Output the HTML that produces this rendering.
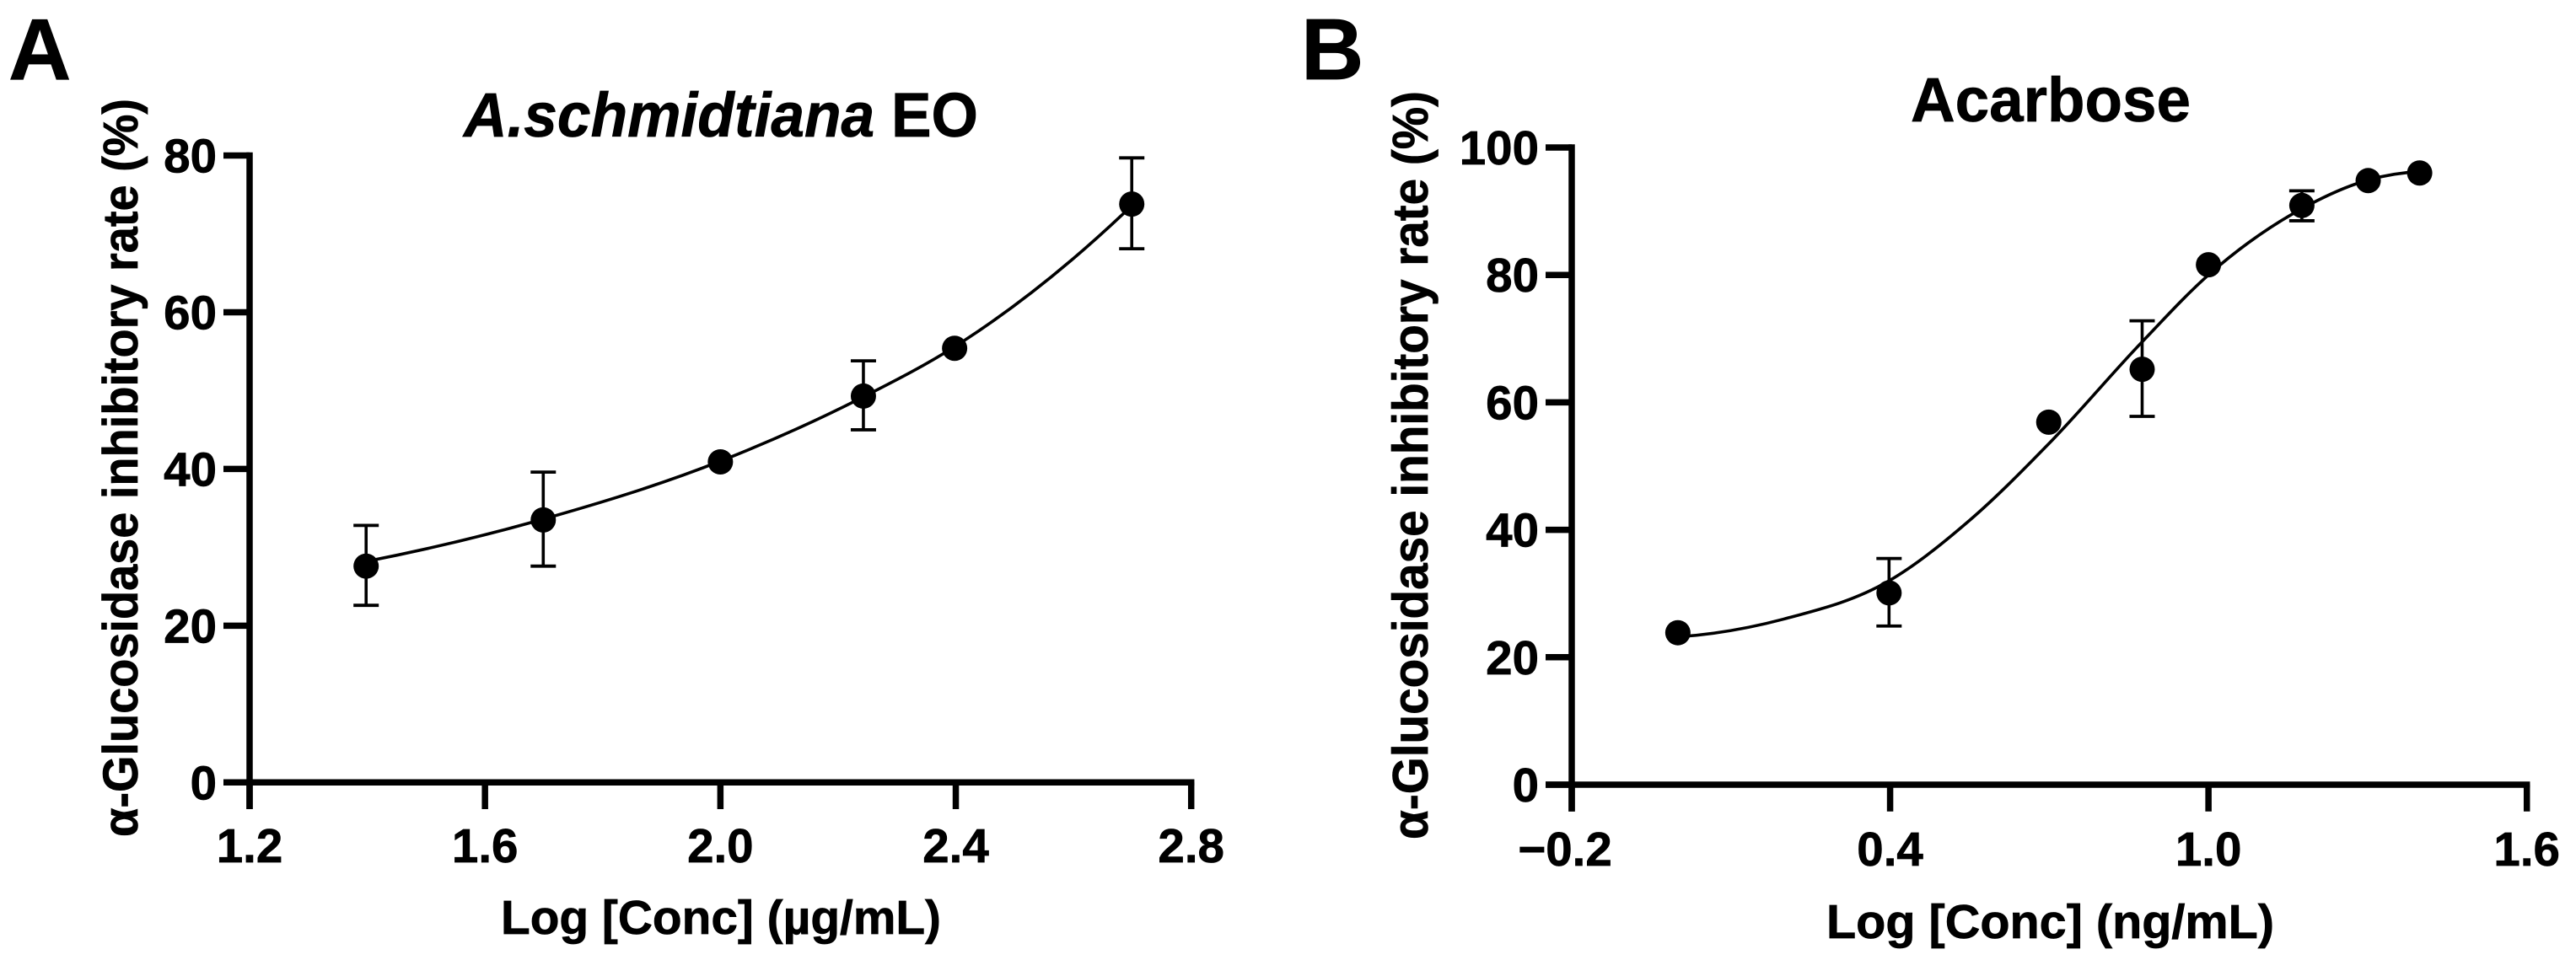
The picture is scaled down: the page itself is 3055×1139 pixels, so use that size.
<!DOCTYPE html>
<html lang="en">
<head>
<meta charset="utf-8">
<title>α-Glucosidase inhibitory rate curves</title>
<style>
  html, body { margin: 0; padding: 0; background: #fff; }
  body { width: 3055px; height: 1139px; overflow: hidden; }
  svg { display: block; }
  text { font-family: "Liberation Sans", sans-serif; font-weight: bold; fill: #000; stroke: #000; stroke-width: 0.7px; }
</style>
</head>
<body>
<svg id="figure" xmlns="http://www.w3.org/2000/svg" width="3055" height="1139" viewBox="0 0 3055 1139">
  <rect x="0" y="0" width="3055" height="1139" fill="#fff"/>
  <text x="10" y="94" font-size="103">A</text>
  <text x="1543" y="94" font-size="103">B</text>
  <text x="550" y="162" font-size="74" textLength="610" lengthAdjust="spacingAndGlyphs"><tspan font-style="italic">A.schmidtiana</tspan> EO</text>
  <text x="2266" y="144" font-size="74" textLength="332" lengthAdjust="spacingAndGlyphs">Acarbose</text>
  <text transform="translate(163 555) rotate(-90)" text-anchor="middle" font-size="58" textLength="876" lengthAdjust="spacingAndGlyphs">α-Glucosidase inhibitory rate (%)</text>
  <text transform="translate(1693 552) rotate(-90)" text-anchor="middle" font-size="59" textLength="888" lengthAdjust="spacingAndGlyphs">α-Glucosidase inhibitory rate (%)</text>
  <text x="594" y="1108" font-size="57" textLength="522" lengthAdjust="spacingAndGlyphs">Log [Conc] (µg/mL)</text>
  <text x="2166" y="1113" font-size="57" textLength="531" lengthAdjust="spacingAndGlyphs">Log [Conc] (ng/mL)</text>
  <g id="panel-a"></g>
  <g id="panel-b"></g>
</svg>
<script>
// Panel A: A.schmidtiana EO
const aXTickLabels = ["1.2", "1.6", "2.0", "2.4", "2.8"];
const aYTickLabels = ["0", "20", "40", "60", "80"];
const aLogConc = [1.398, 1.699, 2.0, 2.243, 2.398, 2.699];
const aRate = [27.6, 33.5, 40.9, 49.3, 55.4, 73.8];
const aErrHigh = [32.8, 39.6, null, 53.8, null, 79.7];
const aErrLow = [22.6, 27.6, null, 45.0, null, 68.1];
const aFitLogConc = [1.398, 1.699, 2.0, 2.243, 2.398, 2.699];
const aFitRate = [28.2, 33.6, 41.0, 49.2, 55.6, 73.6];

// Panel B: Acarbose
const bXTickLabels = ["\u22120.2", "0.4", "1.0", "1.6"];
const bYTickLabels = ["0", "20", "40", "60", "80", "100"];
const bLogConc = [0, 0.398, 0.699, 0.875, 1.0, 1.176, 1.301, 1.398];
const bRate = [23.85, 30.1, 56.9, 65.2, 81.6, 90.9, 94.8, 96.0];
const bErrHigh = [null, 35.5, null, 72.8, null, 93.2, null, null];
const bErrLow = [null, 24.9, null, 57.8, null, 88.5, null, null];
const bFitLogConc = [0, 0.2, 0.398, 0.55, 0.699, 0.875, 1.0, 1.176, 1.301, 1.398];
const bFitRate = [23.2, 26.0, 32.0, 41.5, 53.5, 69.5, 80.0, 90.4, 94.9, 96.2];

const SVG_NS = 'http://www.w3.org/2000/svg';

function linearScale(d0, d1, r0, r1) {
  return function (v) { return r0 + (v - d0) * (r1 - r0) / (d1 - d0); };
}
function tickValue(label) {
  return parseFloat(String(label).replace('\u2212', '-'));
}
function shape(parent, tag, props) {
  const el = document.createElementNS(SVG_NS, tag);
  Object.keys(props).forEach(function (k) { el.setAttribute(k, props[k]); });
  parent.appendChild(el);
  return el;
}
// Smooth x-monotone cubic through the read-off fit values, with non-uniform tangents
function smoothPath(pts) {
  const n = pts.length;
  const h = [];
  const s = [];
  for (let i = 0; i < n - 1; i++) {
    h.push(pts[i + 1][0] - pts[i][0]);
    s.push((pts[i + 1][1] - pts[i][1]) / h[i]);
  }
  const m = [];
  for (let i = 0; i < n; i++) {
    if (i === 0) {
      m.push(s[0] + (s[0] - s[1]) * h[0] / (h[0] + h[1]));
    } else if (i === n - 1) {
      m.push(s[n - 2] + (s[n - 2] - s[n - 3]) * h[n - 2] / (h[n - 2] + h[n - 3]));
    } else {
      m.push((h[i] * s[i - 1] + h[i - 1] * s[i]) / (h[i] + h[i - 1]));
    }
  }
  let d = 'M' + pts[0][0] + ' ' + pts[0][1];
  for (let i = 0; i < n - 1; i++) {
    d += ' C' + (pts[i][0] + h[i] / 3) + ' ' + (pts[i][1] + m[i] * h[i] / 3) +
         ' ' + (pts[i + 1][0] - h[i] / 3) + ' ' + (pts[i + 1][1] - m[i + 1] * h[i] / 3) +
         ' ' + pts[i + 1][0] + ' ' + pts[i + 1][1];
  }
  return d;
}

function drawPanel(g, xTickLabels, yTickLabels, logConc, rate, errHigh, errLow, fitX, fitY, frame) {
  const sx = linearScale(frame.xMin, frame.xMax, frame.left, frame.right);
  const sy = linearScale(frame.yMin, frame.yMax, frame.bottom, frame.top);
  const axisW = 7.5;
  const tickLen = 31;

  const yAxis = shape(g, 'line', { x1: frame.left, x2: frame.left, y1: frame.top - axisW / 2, y2: frame.bottom + tickLen + axisW / 2 - 3, stroke: '#000', 'stroke-width': axisW });
  
  

  const xAxis = shape(g, 'line', { x1: frame.left - tickLen, x2: frame.right + axisW / 2, y1: frame.bottom, y2: frame.bottom, stroke: '#000', 'stroke-width': axisW });
  
  

  yTickLabels.forEach(function (label) {
    const y = sy(tickValue(label));
    const tick = shape(g, 'line', { x1: frame.left - tickLen, x2: frame.left, y1: y, y2: y, stroke: '#000', 'stroke-width': axisW });
    
    
    const txt = shape(g, 'text', { x: frame.left - tickLen - frame.yLabelGap, y: y + 20, 'text-anchor': 'end', 'font-size': 56.5 });
    txt.textContent = label;
    
    
  });

  xTickLabels.forEach(function (label) {
    const x = sx(tickValue(label));
    const tick = shape(g, 'line', { x1: x, x2: x, y1: frame.bottom, y2: frame.bottom + tickLen + axisW / 2 - 3, stroke: '#000', 'stroke-width': axisW });
    
    
    const txt = shape(g, 'text', { x: x + (label.charAt(0) === '\u2212' ? -8 : 0), y: frame.xLabelBase, 'text-anchor': 'middle', 'font-size': 56.5 });
    txt.textContent = label;
    
    
  });

  const fitPoints = fitX.map(function (v, i) { return [sx(v), sy(fitY[i])]; });
  const fit = shape(g, 'path', { d: smoothPath(fitPoints), fill: 'none', stroke: '#000', 'stroke-width': 3.6 });
  
  

  logConc.forEach(function (v, i) {
    const x = sx(v);
    if (errHigh[i] !== null) {
      const stem = shape(g, 'line', { x1: x, x2: x, y1: sy(errHigh[i]), y2: sy(errLow[i]), stroke: '#000', 'stroke-width': 3.6 });
      
      
      const capTop = shape(g, 'line', { x1: x - 15, x2: x + 15, y1: sy(errHigh[i]), y2: sy(errHigh[i]), stroke: '#000', 'stroke-width': 3.8 });
      
      
      const capBottom = shape(g, 'line', { x1: x - 15, x2: x + 15, y1: sy(errLow[i]), y2: sy(errLow[i]), stroke: '#000', 'stroke-width': 3.8 });
      
      
    }
    const dot = shape(g, 'circle', { cx: x, cy: sy(rate[i]), r: 15, fill: '#000' });
    
    
  });
}

drawPanel(document.getElementById('panel-a'), aXTickLabels, aYTickLabels, aLogConc, aRate, aErrHigh, aErrLow, aFitLogConc, aFitRate,
  { xMin: 1.2, xMax: 2.8, yMin: 0, yMax: 80, left: 296, right: 1412.7, top: 184.5, bottom: 928.3, yLabelGap: 8, xLabelBase: 1023 });
drawPanel(document.getElementById('panel-b'), bXTickLabels, bYTickLabels, bLogConc, bRate, bErrHigh, bErrLow, bFitLogConc, bFitRate,
  { xMin: -0.2, xMax: 1.6, yMin: 0, yMax: 100, left: 1864, right: 2996.7, top: 175, bottom: 931, yLabelGap: 8, xLabelBase: 1027 });
</script>
</body>
</html>
